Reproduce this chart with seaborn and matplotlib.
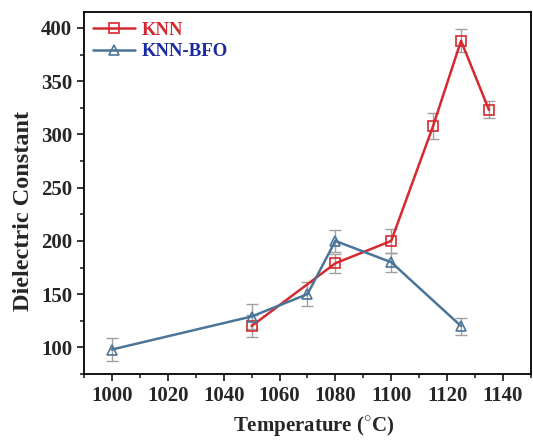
import matplotlib
matplotlib.use("Agg")
import matplotlib.pyplot as plt
import seaborn as sns
import pandas as pd
from matplotlib.ticker import MultipleLocator

knn_temp = [1050, 1080, 1100, 1115, 1125, 1135]
knn_val = [120, 179, 200, 308, 388, 323]
knn_err = [10, 9, 11, 12, 11, 8]

bfo_temp = [1000, 1050, 1070, 1080, 1100, 1125]
bfo_val = [98, 129, 150, 200, 180, 120]
bfo_err = [11, 12, 11, 10, 9, 8]

sns.set_theme(style="ticks")
plt.rcParams['font.family'] = ['Liberation Serif', 'DejaVu Serif']
plt.rcParams['font.weight'] = 'bold'
plt.rcParams['mathtext.fontset'] = 'custom'
plt.rcParams['mathtext.rm'] = 'Liberation Serif:bold'

fig = plt.figure(figsize=(5.33, 4.4), dpi=100)
ax = fig.add_axes([0.1576, 0.15, 0.8384, 0.8227])

red = '#d42a2f'
blue = '#4a7598'

ax.errorbar(knn_temp, knn_val, yerr=knn_err, fmt='none', ecolor='#a0a0a0',
            elinewidth=1, capsize=4, capthick=1, zorder=1)
ax.errorbar(bfo_temp, bfo_val, yerr=bfo_err, fmt='none', ecolor='#a0a0a0',
            elinewidth=1, capsize=4, capthick=1, zorder=1)

series = [('KNN', knn_temp, knn_val, red, 's', 8),
          ('KNN-BFO', bfo_temp, bfo_val, blue, '^', 9)]
for name, t, v, c, m, ms in series:
    d = pd.DataFrame({'T': t, 'v': v})
    sns.lineplot(data=d, x='T', y='v', color=c, linewidth=1.8, ax=ax,
                 label=name, zorder=3)
    ln = ax.get_lines()[-1]
    ln.set_marker(m)
    ln.set_markersize(ms)
    ln.set_markerfacecolor('none')
    ln.set_markeredgecolor(c)
    ln.set_markeredgewidth(1.3)

ax.set_xlim(990, 1150)
ax.set_ylim(75, 415)
ax.xaxis.set_major_locator(MultipleLocator(20))
ax.xaxis.set_minor_locator(MultipleLocator(10))
ax.yaxis.set_major_locator(MultipleLocator(50))
ax.yaxis.set_minor_locator(MultipleLocator(25))
ax.tick_params(which='major', direction='out', length=5, width=1.3, labelsize=15)
ax.tick_params(which='minor', direction='out', length=3, width=1.2)
for lab in ax.get_xticklabels() + ax.get_yticklabels():
    lab.set_fontweight('bold')
for s in ax.spines.values():
    s.set_linewidth(1.3)
    s.set_color('black')

ax.set_xlabel('Temperature ($^{\\circ}$C)', fontsize=15, fontweight='bold')
ax.set_ylabel('Dielectric Constant', fontsize=17.5, fontweight='bold')
ax.xaxis.set_label_coords(0.515, -0.112)
ax.yaxis.set_label_coords(-0.112, 0.45)

handles, labels = ax.get_legend_handles_labels()
for h, (name, t, v, c, m, ms) in zip(handles, series):
    h.set_marker(m)
    h.set_markersize(7)
    h.set_markeredgecolor(c)
    h.set_markerfacecolor('none')
    h.set_markeredgewidth(1.2)
leg = ax.legend(handles, labels, loc='upper left', frameon=False,
                prop={'weight': 'bold', 'size': 13.5}, handlelength=2.2,
                borderaxespad=0.1, labelspacing=0.25, handletextpad=0.4,
                bbox_to_anchor=(0.0, 1.0))
for t, c in zip(leg.get_texts(), [red, '#1c2aa0']):
    t.set_color(c)

fig.savefig('out.png', dpi=100)
